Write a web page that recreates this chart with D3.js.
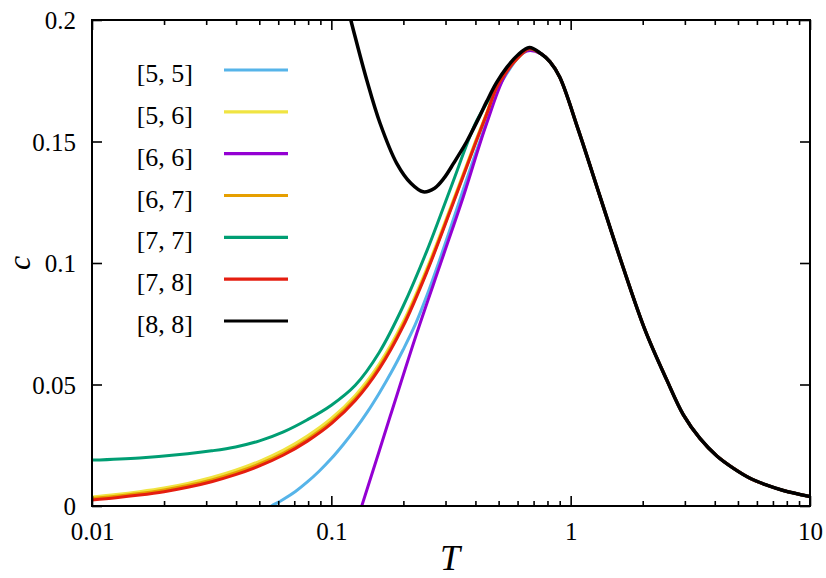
<!DOCTYPE html>
<html>
<head>
<meta charset="utf-8">
<script src="https://cdn.jsdelivr.net/npm/d3@7"></script>
<style>
  body { margin: 0; background: #fff; }
  text { font-family: "Liberation Serif", serif; fill: #000; }
</style>
</head>
<body>
<div id="chart"></div>
<script>
// series labels (legend order)
var seriesNames = ["[5, 5]", "[5, 6]", "[6, 6]", "[6, 7]", "[7, 7]", "[7, 8]", "[8, 8]"];
var seriesColors = ["#56b4e9", "#f0e442", "#9400d3", "#e69f00", "#009e73", "#e51e10", "#000000"];

// [T, c]
var c55 = [[0.0501,-0.0028],[0.0562,0],[0.0631,0.0028],[0.0708,0.006],[0.0794,0.0099],[0.0891,0.0144],
  [0.1,0.0195],[0.1122,0.0253],[0.1259,0.0316],[0.1413,0.0386],[0.1585,0.0464],[0.1778,0.0549],
  [0.1995,0.0643],[0.2239,0.0745],[0.2512,0.0868],[0.2818,0.1005],[0.3162,0.115],[0.3548,0.1298],
  [0.3981,0.1443],[0.4467,0.1583],[0.49,0.1705],[0.541,0.178],[0.60,0.1842],[0.672,0.1881]];
var c56 = [[0.01,0.0037],[0.0126,0.0047],[0.0158,0.0059],[0.02,0.0074],[0.0251,0.0093],[0.0316,0.0117],
  [0.0398,0.0147],[0.0501,0.0184],[0.0631,0.023],[0.0794,0.0288],[0.1,0.036],[0.1259,0.0455],
  [0.1585,0.0584],[0.1995,0.0757],[0.2512,0.098],[0.3162,0.1233],[0.3981,0.1495],[0.4467,0.1619],
  [0.49,0.1725],[0.541,0.1791],[0.60,0.1844],[0.672,0.1882]];
var c66 = [[0.12,-0.014],[0.134,0],[0.176,0.0368],[0.2275,0.0711],[0.2893,0.1012],[0.356,0.1273],[0.446,0.1575],
  [0.541,0.1785],[0.6555,0.1872]];
var c67 = [[0.01,0.0031],[0.0126,0.004],[0.0158,0.0051],[0.02,0.0066],[0.0251,0.0084],[0.0316,0.0107],
  [0.0398,0.0137],[0.0501,0.0173],[0.0631,0.0218],[0.0794,0.0275],[0.1,0.0347],[0.1259,0.0442],
  [0.1585,0.0572],[0.1995,0.0746],[0.2512,0.097],[0.3162,0.1226],[0.3981,0.149],[0.4467,0.1617],
  [0.49,0.1723],[0.541,0.179],[0.60,0.1843],[0.672,0.1882]];
var c77 = [[0.01,0.0189],[0.0158,0.0198],[0.0251,0.0215],[0.0316,0.0227],[0.0398,0.0243],[0.0501,0.0268],
  [0.0631,0.0305],[0.0794,0.0355],[0.1,0.0415],[0.1259,0.0497],[0.1585,0.0632],[0.1995,0.0822],[0.2512,0.1052],
  [0.3162,0.1312],[0.3981,0.157],[0.4467,0.166],[0.49,0.173],[0.541,0.1793],[0.60,0.1846],[0.672,0.1882]];
var c78 = [[0.01,0.0025],[0.0126,0.0034],[0.0158,0.0045],[0.02,0.0059],[0.0251,0.0077],[0.0316,0.01],
  [0.0398,0.0129],[0.0501,0.0165],[0.0631,0.021],[0.0794,0.0267],[0.1,0.0339],[0.1259,0.0434],
  [0.1585,0.0564],[0.1995,0.0739],[0.2512,0.0965],[0.3162,0.1222],[0.3981,0.1487],[0.4467,0.1615],
  [0.49,0.1722],[0.541,0.179],[0.60,0.1843],[0.672,0.1882]];
var c88 = [[0.115,0.208],[0.1236,0.1959],[0.1406,0.1753],[0.1598,0.1575],[0.1876,0.141],[0.215,0.1328],
  [0.242,0.1293],[0.27,0.1308],[0.295,0.1348],[0.325,0.1412],[0.368,0.1500],[0.41,0.1590],[0.446,0.1665],
  [0.49,0.1742],[0.541,0.1805],[0.60,0.1855],[0.672,0.1887]];
// high-T part, common to all sizes
var tail = [[0.75,0.1862],[0.82,0.1828],[0.9,0.1765],[1.077,0.1547],[1.327,0.1273],[1.635,0.0999],
  [2.046,0.0724],[2.52,0.0519],[2.958,0.0375],[3.47,0.0278],[4.08,0.0206],[4.79,0.0155],[5.62,0.0114],
  [6.6,0.0086],[7.74,0.0064],[10,0.0039]];

var xMajor = [0.01, 0.1, 1, 10];
var xMajorLabels = ["0.01", "0.1", "1", "10"];
var xMinor = [2,3,4,5,6,7,8,9,20,30,40,50,60,70,80,90,200,300,400,500,600,700,800,900].map(function(d){ return d / 100; });
var yTicks = [0, 0.05, 0.1, 0.15, 0.2];
var yTickLabels = ["0", "0.05", "0.1", "0.15", "0.2"];

var series = [c55, c56, c66, c67, c77, c78, c88].map(function(pts, i) {
  return { name: seriesNames[i], color: seriesColors[i], values: pts.concat(tail) };
});

// set the dimensions and margins of the graph
var margin = {top: 20, right: 16, bottom: 72, left: 92},
    width = 826 - margin.left - margin.right,
    height = 578 - margin.top - margin.bottom;

var svgRoot = d3.select("#chart")
  .append("svg")
    .attr("width", 826)
    .attr("height", 578);
svgRoot.append("rect").attr("width", 826).attr("height", 578).attr("fill", "#fff");

var svg = svgRoot.append("g")
    .attr("transform", "translate(" + margin.left + "," + margin.top + ")");

var x = d3.scaleLog().domain([0.01, 10]).range([0, width]);
var y = d3.scaleLinear().domain([0, 0.2]).range([height, 0]);

svg.append("clipPath").attr("id", "clip")
  .append("rect").attr("width", width).attr("height", height);

// curves
var line = d3.line()
  .x(function(d) { return x(d[0]); })
  .y(function(d) { return y(d[1]); })
  .curve(d3.curveCatmullRom.alpha(0.5));

svg.append("g").attr("clip-path", "url(#clip)")
  .selectAll("path")
  .data(series)
  .enter()
  .append("path")
    .attr("d", function(d) { return line(d.values); })
    .attr("fill", "none")
    .attr("stroke", function(d) { return d.color; })
    .attr("stroke-width", function(d, i) { return i == 6 ? 3.5 : 3; })
    .attr("stroke-linejoin", "round");

// axes, ticks pointing inwards
function styleAxis(g) {
  g.select(".domain").remove();
  g.selectAll(".tick line").attr("stroke", "#000").attr("stroke-width", 1.6);
}

svg.append("g").attr("transform", "translate(0," + height + ")")
  .call(d3.axisBottom(x).tickValues(xMinor).tickSize(-5).tickFormat(""))
  .call(styleAxis);
var xAx = svg.append("g").attr("transform", "translate(0," + height + ")")
  .call(d3.axisBottom(x).tickValues(xMajor).tickSize(-10)
    .tickFormat(function(d, i) { return xMajorLabels[i]; }))
  .call(styleAxis);
xAx.selectAll("text").attr("y", 34).attr("dy", null)
  .attr("font-size", 25).attr("font-family", "Liberation Serif, serif");

svg.append("g")
  .call(d3.axisTop(x).tickValues(xMinor).tickSize(-5).tickFormat(""))
  .call(styleAxis);
svg.append("g")
  .call(d3.axisTop(x).tickValues(xMajor).tickSize(-10).tickFormat(""))
  .call(styleAxis);

var yAx = svg.append("g")
  .call(d3.axisLeft(y).tickValues(yTicks).tickSize(-10)
    .tickFormat(function(d, i) { return yTickLabels[i]; }))
  .call(styleAxis);
yAx.selectAll("text").attr("x", -16).attr("dy", "0.34em")
  .attr("font-size", 25).attr("font-family", "Liberation Serif, serif");

svg.append("g").attr("transform", "translate(" + width + ",0)")
  .call(d3.axisRight(y).tickValues(yTicks).tickSize(-10).tickFormat(""))
  .call(styleAxis);

// frame
svg.append("rect")
  .attr("width", width).attr("height", height)
  .attr("fill", "none").attr("stroke", "#000").attr("stroke-width", 2);

// axis labels
svgRoot.append("text")
  .attr("x", 450).attr("y", 570)
  .attr("text-anchor", "middle")
  .attr("font-size", 36).attr("font-style", "italic")
  .text("T");
svgRoot.append("text")
  .attr("transform", "translate(30,263) rotate(-90)")
  .attr("text-anchor", "middle")
  .attr("font-size", 32).attr("font-style", "italic")
  .text("c");

// legend
var legend = svgRoot.append("g");
var rowY = d3.scaleLinear().domain([0, 6]).range([70, 321]);
var rows = legend.selectAll("g").data(series).enter().append("g")
  .attr("transform", function(d, i) { return "translate(0," + rowY(i) + ")"; });
rows.append("text")
  .attr("x", 193).attr("y", 12)
  .attr("text-anchor", "end")
  .attr("font-size", 26)
  .text(function(d) { return d.name; });
rows.append("line")
  .attr("x1", 224).attr("x2", 288)
  .attr("stroke", function(d) { return d.color; })
  .attr("stroke-width", 3.2);
</script>
</body>
</html>
